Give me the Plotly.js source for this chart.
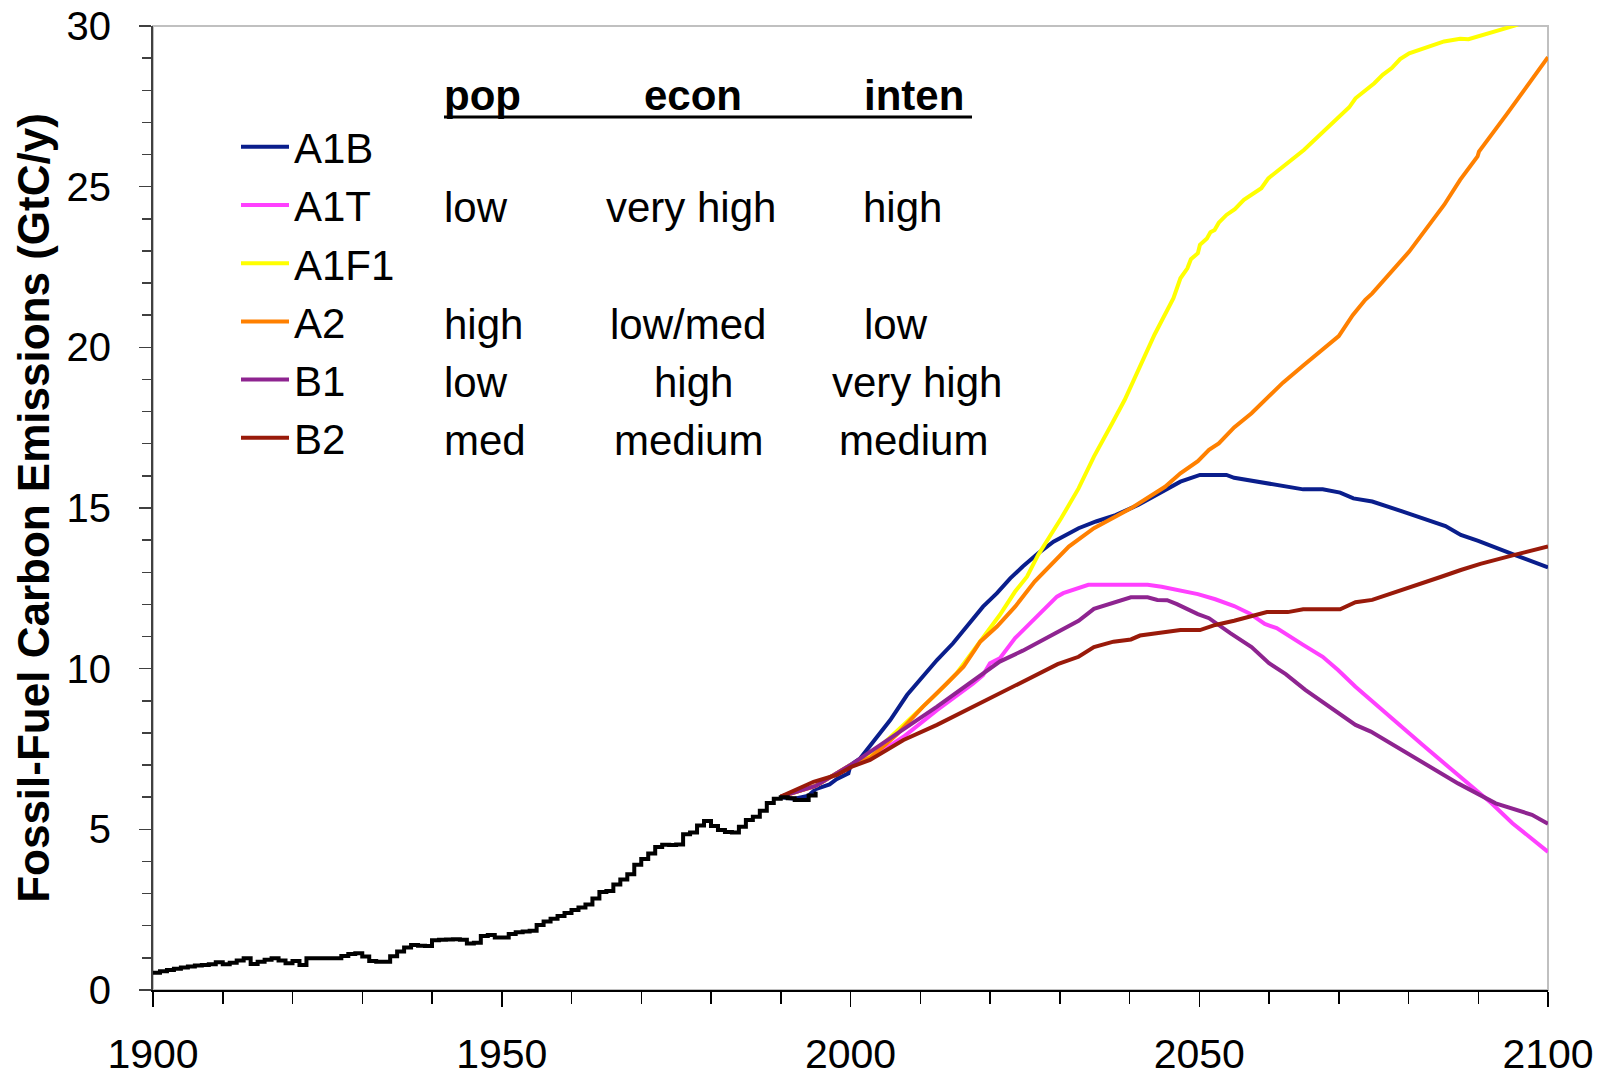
<!DOCTYPE html>
<html>
<head>
<meta charset="utf-8">
<script src="https://cdn.plot.ly/plotly-3.0.1.min.js"></script>
<style>html,body{margin:0;padding:0;background:#fff;}#chart{width:1602px;height:1078px;}</style>
</head>
<body>
<div id="chart"></div>
<script>
// ---------------- DATA ----------------
const histYears = [1900,1901,1902,1903,1904,1905,1906,1907,1908,1909,1910,1911,1912,1913,1914,1915,1916,1917,1918,1919,
  1920,1921,1922,1923,1924,1925,1926,1927,1928,1929,1930,1931,1932,1933,1934,1935,1936,1937,1938,1939,
  1940,1941,1942,1943,1944,1945,1946,1947,1948,1949,1950,1951,1952,1953,1954,1955,1956,1957,1958,1959,
  1960,1961,1962,1963,1964,1965,1966,1967,1968,1969,1970,1971,1972,1973,1974,1975,1976,1977,1978,1979,
  1980,1981,1982,1983,1984,1985,1986,1987,1988,1989,1990,1991,1992,1993,1994,1995];
const histValues = [0.54,0.58,0.62,0.66,0.70,0.73,0.76,0.78,0.80,0.86,0.80,0.85,0.92,0.99,0.81,0.88,0.94,0.99,0.92,0.83,
  0.90,0.78,0.99,0.99,0.99,0.99,0.99,1.06,1.12,1.14,1.04,0.90,0.88,0.88,1.05,1.20,1.32,1.40,1.38,1.37,
  1.55,1.56,1.57,1.58,1.56,1.45,1.47,1.68,1.71,1.63,1.63,1.74,1.80,1.82,1.84,2.02,2.13,2.22,2.30,2.40,
  2.49,2.57,2.66,2.85,3.05,3.08,3.28,3.44,3.60,3.90,4.08,4.25,4.45,4.52,4.51,4.53,4.85,4.90,5.12,5.26,
  5.10,4.98,4.92,4.90,5.08,5.29,5.39,5.58,5.82,5.95,6.00,5.97,5.91,5.91,6.05,6.17];

const a1bYears  = [1990,1992,1994,1995,1997,1998,1999.7,2000,2001.4,2003.8,2005.7,2008.1,2010.4,2012.4,2014.7,2017.1,2019,2021,2022.9,2024.7,2026.9,2029.1,2032.7,2035.2,2038,2041.3,2045.1,2047.3,2050.1,2053.9,2055,2057.8,2059.4,2062.2,2064.9,2067.7,2070.2,2072.1,2074.8,2079.2,2082.5,2085.3,2087.5,2090,2095.2,2100];
const a1bValues = [6.0,5.95,6.05,6.25,6.4,6.56,6.74,7.0,7.21,7.88,8.40,9.18,9.75,10.27,10.79,11.41,11.93,12.35,12.81,13.18,13.59,13.95,14.37,14.58,14.78,15.10,15.54,15.82,16.03,16.03,15.94,15.84,15.77,15.66,15.58,15.58,15.48,15.30,15.20,14.89,14.65,14.44,14.16,13.98,13.54,13.15];

const a1tYears  = [1990,1995,2000,2002.8,2007.6,2012.4,2017.6,2019,2020,2021.4,2023.6,2026.4,2029.6,2030.5,2034.1,2042.6,2044.6,2049.8,2052.3,2055,2057.2,2059.4,2061.1,2064.9,2067.7,2069.9,2072.4,2082,2087.5,2091.9,2094.9,2100];
const a1tValues = [6.02,6.35,7.0,7.2,7.88,8.71,9.54,9.80,10.17,10.32,10.95,11.57,12.24,12.35,12.61,12.61,12.55,12.32,12.16,11.95,11.72,11.39,11.26,10.74,10.37,9.96,9.44,7.63,6.62,5.81,5.19,4.30];

const a1f1Years  = [1990,1995,2000,2002.8,2007.6,2012.4,2015.2,2018.1,2021.4,2023.6,2025.3,2026.9,2030.2,2032.7,2034.9,2037.4,2039.3,2043.6,2046.3,2047.3,2048.3,2048.8,2049.8,2050.1,2051.1,2051.6,2052.2,2052.8,2053.9,2055.1,2056.4,2058.9,2059.9,2065,2070.2,2071.5,2072.4,2075.1,2076.3,2077.6,2078.8,2080.1,2085.1,2087.4,2088.6,2095.2,2100];
const a1f1Values = [6.02,6.35,7.0,7.28,8.25,9.23,9.85,10.68,11.67,12.40,12.86,13.54,14.68,15.61,16.60,17.59,18.36,20.4,21.53,22.15,22.46,22.74,22.93,23.19,23.39,23.58,23.65,23.88,24.12,24.30,24.59,24.95,25.26,26.14,27.18,27.47,27.75,28.22,28.48,28.69,28.97,29.15,29.52,29.60,29.59,30.01,30.4];

const a2Years  = [1990,1995,2000,2002.8,2006.6,2010.4,2013.8,2016.2,2017.8,2018.6,2021,2023.6,2026.4,2028.9,2031.3,2034.9,2037.7,2040.2,2045.1,2047.3,2049.8,2051.4,2052.8,2055,2057.5,2059.4,2062,2065,2068,2070,2072,2073.8,2074.8,2080.1,2085.1,2087.4,2089.9,2090.1,2094.2,2100];
const a2Values = [6.02,6.35,7.0,7.22,7.94,8.82,9.54,10.06,10.58,10.84,11.31,11.93,12.71,13.28,13.80,14.37,14.68,14.99,15.66,16.08,16.46,16.81,17.01,17.51,17.95,18.36,18.9,19.45,20.0,20.35,21.0,21.48,21.68,22.98,24.43,25.21,25.94,26.09,27.29,29.03];

const b1Years  = [1990,1995,2000,2002.8,2007.1,2012.4,2017.6,2021.4,2024.7,2030.2,2031.6,2032.7,2034.9,2037.4,2040.2,2042.6,2044,2045.4,2046.8,2049.8,2051.4,2054.5,2057.5,2060,2062.4,2065.2,2069.9,2072.4,2074.6,2087.1,2092.5,2097.7,2100];
const b1Values = [6.02,6.35,7.0,7.40,8.04,8.82,9.65,10.22,10.56,11.20,11.39,11.49,11.86,12.03,12.22,12.22,12.14,12.13,12.01,11.70,11.57,11.10,10.67,10.17,9.83,9.34,8.61,8.25,8.04,6.43,5.81,5.45,5.17];

const b2Years  = [1990,1994.7,1998,2000.2,2002.8,2007.6,2012.4,2017.6,2021.4,2029.7,2032.7,2034.9,2037.7,2040.2,2041.5,2047.3,2050.1,2052.3,2055,2057.8,2059.7,2062.7,2064.9,2070.2,2072.4,2074.8,2079.2,2084.7,2087.5,2090.3,2095.2,2100];
const b2Values = [6.02,6.48,6.69,6.95,7.16,7.78,8.25,8.82,9.23,10.14,10.37,10.67,10.84,10.91,11.03,11.20,11.20,11.36,11.49,11.67,11.76,11.76,11.85,11.85,12.07,12.14,12.45,12.86,13.07,13.26,13.54,13.80];

const scenarioNames = ['A1B','A1T','A1F1','A2','B1','B2'];
const tableHeaders = ['pop','econ','inten'];
const popLabels   = ['', 'low', '', 'high', 'low', 'med'];
const econLabels  = ['', 'very high', '', 'low/med', 'high', 'medium'];
const intenLabels = ['', 'high', '', 'low', 'very high', 'medium'];
const yAxisTitle = 'Fossil-Fuel Carbon Emissions (GtC/y)';

// ---------------- STYLE / LAYOUT ----------------
const colors = ['#0a1e8c', '#ff40ff', '#ffff00', '#ff8000', '#8e2490', '#991a0a'];
const FONT = 'Liberation Sans, Arial, Helvetica, sans-serif';
const PL = 153, PR = 1548, PT = 26, PB = 990;
const px2x = px => (px - PL) / (PR - PL);
const px2y = py => (PB - py) / (PB - PT);

const seriesX = [a1bYears, a1tYears, a1f1Years, a2Years, b1Years, b2Years];
const seriesY = [a1bValues, a1tValues, a1f1Values, a2Values, b1Values, b2Values];

const traces = scenarioNames.map((name, i) => ({
  type: 'scatter', mode: 'lines', name: name,
  x: seriesX[i], y: seriesY[i],
  legendgroup: 'g' + i,
  line: {color: colors[i], width: 4},
  hoverinfo: 'x+y+name'
}));
traces.push({
  type: 'scatter', mode: 'lines', name: 'Historical',
  x: histYears, y: histValues, showlegend: false,
  line: {color: '#000000', width: 4, shape: 'hv'}
});

const rowCenters = [149.5, 207.7, 265.9, 324.1, 382.3, 440.5];
const econCenters = [0, 691, 0, 688, 693, 688];
const intenCenters = [0, 902, 0, 896, 917, 913];
const annFont = {family: FONT, size: 42, color: '#000'};

const annotations = [];
[[tableHeaders[0], 442, 'left'], [tableHeaders[1], 693, 'center'], [tableHeaders[2], 914, 'center']].forEach(h => {
  annotations.push({xref: 'paper', yref: 'paper', x: px2x(h[1]), y: px2y(96), xanchor: h[2], yanchor: 'middle',
    text: '<b>' + h[0] + '</b>', showarrow: false, font: annFont});
});
for (let i = 0; i < scenarioNames.length; i++) {
  if (popLabels[i]) annotations.push({xref: 'paper', yref: 'paper', x: px2x(442), y: px2y(rowCenters[i]),
    xanchor: 'left', yanchor: 'middle', text: popLabels[i], showarrow: false, font: annFont});
  if (econLabels[i]) annotations.push({xref: 'paper', yref: 'paper', x: px2x(econCenters[i]), y: px2y(rowCenters[i]),
    xanchor: 'center', yanchor: 'middle', text: econLabels[i], showarrow: false, font: annFont});
  if (intenLabels[i]) annotations.push({xref: 'paper', yref: 'paper', x: px2x(intenCenters[i]), y: px2y(rowCenters[i]),
    xanchor: 'center', yanchor: 'middle', text: intenLabels[i], showarrow: false, font: annFont});
}

const layout = {
  width: 1602, height: 1078,
  margin: {l: PL, r: 1602 - PR, t: PT, b: 1078 - PB, pad: 0},
  paper_bgcolor: '#ffffff', plot_bgcolor: '#ffffff',
  font: {family: FONT, color: '#000'},
  showlegend: true,
  legend: {
    x: px2x(236), y: px2y(113), xanchor: 'left', yanchor: 'top',
    font: {family: FONT, size: 42, color: '#000'},
    bgcolor: 'rgba(0,0,0,0)', borderwidth: 0,
    itemwidth: 48, tracegroupgap: 0.6, traceorder: 'grouped'
  },
  xaxis: {
    range: [1900, 2100], tick0: 1900, dtick: 50,
    ticks: 'outside', ticklen: 15, tickwidth: 1.5, tickcolor: '#000',
    minor: {dtick: 10, ticks: 'outside', ticklen: 12, tickwidth: 1.5, tickcolor: '#000', showgrid: false},
    showline: true, linecolor: '#000', linewidth: 2,
    showgrid: false, zeroline: false,
    tickfont: {family: FONT, size: 41, color: '#000'},
    ticklabelstandoff: 12, fixedrange: true
  },
  yaxis: {
    range: [0, 30], tick0: 0, dtick: 5,
    ticks: 'outside', ticklen: 12, tickwidth: 1.5, tickcolor: '#404040',
    minor: {dtick: 1, ticks: 'outside', ticklen: 9, tickwidth: 1.5, tickcolor: '#404040', showgrid: false},
    showline: true, linecolor: '#404040', linewidth: 2,
    showgrid: false, zeroline: false,
    tickfont: {family: FONT, size: 40, color: '#000'},
    ticklabelstandoff: 20,
    title: {text: '<b>' + yAxisTitle + '</b>', font: {family: FONT, size: 44, color: '#000'}, standoff: 3},
    fixedrange: true
  },
  shapes: [
    {type: 'rect', xref: 'paper', yref: 'paper', x0: 0, x1: 1, y0: 0, y1: 1,
     line: {color: '#c0c0c0', width: 2}, layer: 'below'},
    {type: 'line', xref: 'paper', yref: 'paper', x0: px2x(444), x1: px2x(972), y0: px2y(117), y1: px2y(117),
     line: {color: '#000', width: 3}}
  ],
  annotations: annotations
};

Plotly.newPlot('chart', traces, layout, {displayModeBar: false, staticPlot: true});
</script>
</body>
</html>
